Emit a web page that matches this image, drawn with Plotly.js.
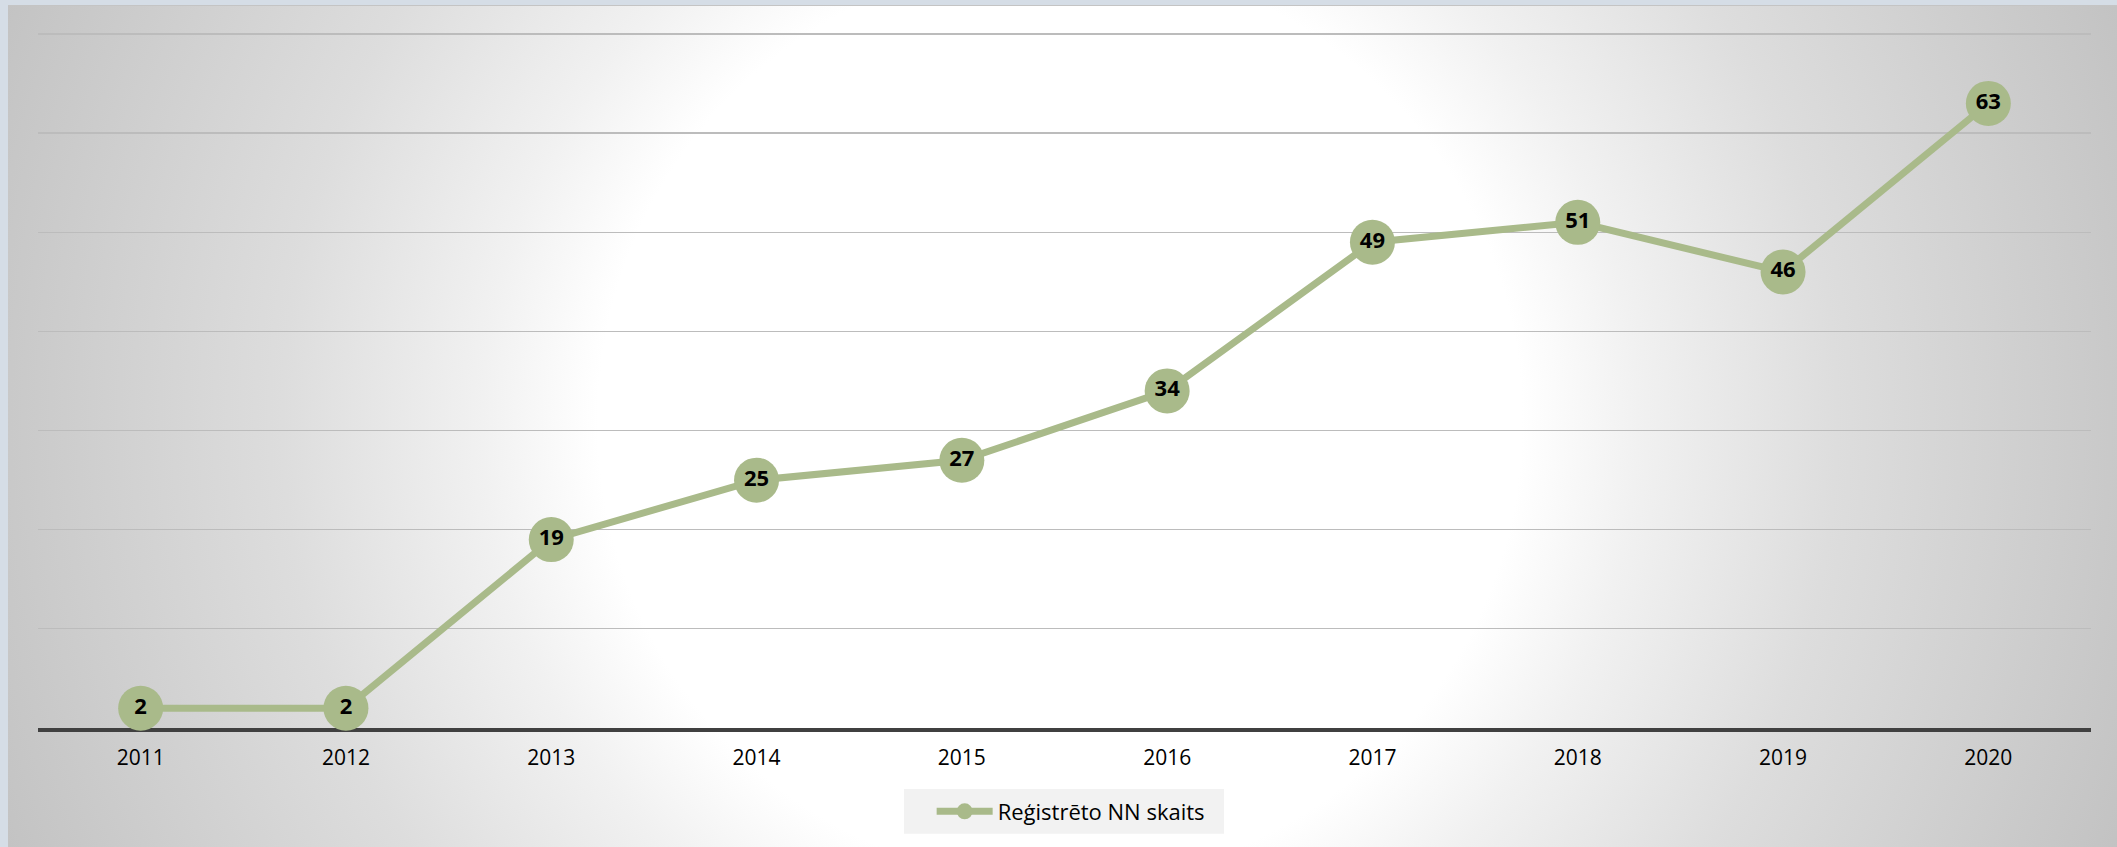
<!DOCTYPE html>
<html>
<head>
<meta charset="utf-8">
<script src="https://cdn.plot.ly/plotly-3.0.1.min.js"></script>
<style>
  html, body { margin: 0; padding: 0; width: 2117px; height: 847px; overflow: hidden; background: #d5dde6; }
  #bg { position: absolute; left: 8px; top: 5px; width: 2109px; height: 842px;
        background: radial-gradient(circle 1050px at 1052px 415px, #ffffff 0%, #ffffff 44%, #f1f1f1 55%, #dddddd 74%, #c9c9c9 100%, #c0c0c0 112%);
        border-top: 1px solid #c4c4c4; box-sizing: border-box; }
  #chart { position: absolute; left: 0; top: 0; width: 2117px; height: 847px; }
</style>
</head>
<body>
<div id="bg"></div>
<div id="chart"></div>
<script>
const years = ['2011', '2012', '2013', '2014', '2015', '2016', '2017', '2018', '2019', '2020'];
const counts = [2, 2, 19, 25, 27, 34, 49, 51, 46, 63];
const seriesName = 'Reģistrēto NN skaits';
const gridVals = [10, 20, 30, 40, 50, 60, 70];

const green = '#a9ba8a';
const fontFamily = '"Open Sans", "Liberation Sans", sans-serif';

const trace = {
  x: years,
  y: counts,
  name: seriesName,
  type: 'scatter',
  mode: 'lines+markers+text',
  text: counts.map(String),
  textposition: 'middle center',
  textfont: { family: fontFamily, size: 22, color: '#000000', weight: 'bold' },
  line: { color: green, width: 7 },
  marker: { color: green, size: 45 },
  cliponaxis: false,
  hoverinfo: 'x+y'
};

const layout = {
  width: 2117,
  height: 847,
  margin: { l: 38, r: 26, t: 32, b: 119 },
  paper_bgcolor: 'rgba(0,0,0,0)',
  plot_bgcolor: 'rgba(0,0,0,0)',
  font: { family: fontFamily, size: 21, color: '#000000' },
  showlegend: true,
  legend: {
    orientation: 'h',
    x: 0.503, xanchor: 'center',
    y: -0.12, yanchor: 'middle',
    bgcolor: 'rgba(0,0,0,0)',
    font: { family: fontFamily, size: 22, color: '#000000' },
    itemwidth: 56
  },
  shapes: [{
    type: 'rect', xref: 'paper', yref: 'paper',
    x0: 0.4218, x1: 0.5777, y0: -0.0876, y1: -0.1521,
    fillcolor: '#f2f2f2', line: { width: 0 }, layer: 'below'
  }],
  xaxis: {
    type: 'category',
    range: [-0.5, 9.5],
    showline: true,
    linecolor: '#404040',
    linewidth: 3.5,
    showgrid: false,
    zeroline: false,
    ticks: 'outside',
    ticklen: 8,
    tickcolor: 'rgba(0,0,0,0)',
    tickfont: { family: fontFamily, size: 21, color: '#000000' },
    layer: 'below traces'
  },
  yaxis: {
    range: [0, 70.2],
    tickvals: gridVals,
    showticklabels: false,
    showgrid: true,
    gridcolor: '#bcbcbc',
    gridwidth: 1.3,
    zeroline: false,
    showline: false,
    ticks: '',
    layer: 'below traces'
  }
};

Plotly.newPlot('chart', [trace], layout, { displayModeBar: false, staticPlot: true });
</script>
</body>
</html>
